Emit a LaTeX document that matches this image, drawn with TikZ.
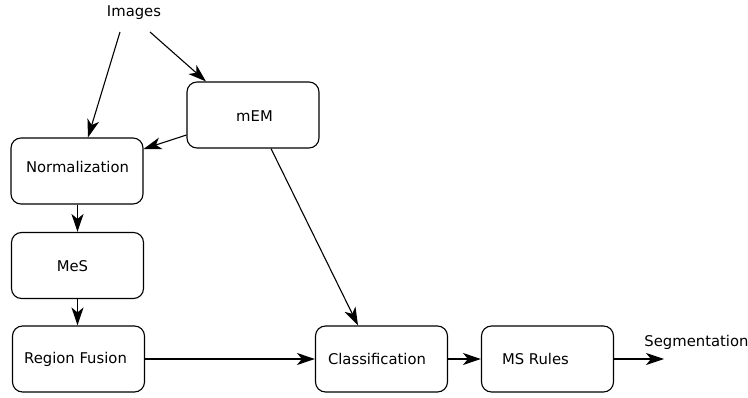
\documentclass[tikz,border=0pt]{standalone}
\usepackage{fontspec}
\setmainfont{DejaVu Sans}
\usetikzlibrary{arrows.meta}
\begin{document}
\begin{tikzpicture}[x=1pt,y=-1pt,
  box/.style={draw,line width=1.1pt,rounded corners=10pt,minimum width=132pt,minimum height=66pt,inner sep=0pt},
  lbl/.style={inner sep=0pt,font=\fontsize{14.8}{17}\selectfont},
  txt/.style n args={3}{label={[lbl,text height=0pt,text depth=0pt,xshift=#1,yshift=#2]center:#3}},
  conn/.style={line width=1.1pt,-{Stealth[length=18pt,width=12pt,inset=5pt]}}]
\useasboundingbox (0,0) rectangle (748,398);
\node[lbl,anchor=base] (img) at (134,17) {Images};
\node[box,txt={1.5pt}{-7pt}{mEM}] (mem) at (253,115) {};
\node[box,txt={0.5pt}{-2pt}{Normalization}] (norm) at (77,171) {};
\node[box,txt={-5pt}{-6.5pt}{MeS}] (mes) at (77.5,265.5) {};
\node[box,txt={-3pt}{-4.5pt}{Region Fusion}] (rf) at (78.5,359) {};
\node[box,txt={-4.5pt}{-6pt}{Classification}] (cls) at (381.5,359) {};
\node[box,txt={-12pt}{-6pt}{MS Rules}] (msr) at (547.5,359) {};
\node[lbl,anchor=base] (seg) at (696.5,347) {Segmentation};
\coordinate (i1) at (120,32);
\coordinate (i2) at (150,32);
\coordinate (segend) at (664,359);
\draw[conn] (i1) -- (norm.north -| 88,0);
\draw[conn] (i2) -- (mem.north -| 206,0);
\draw[conn] (mem.west |- 0,135) -- (norm.east |- 0,149);
\draw[conn] (mem.south -| 271,0) -- (cls.north -| 358,0);
\draw[conn] (norm.south -| 77.5,0) -- (mes.north -| 77.5,0);
\draw[conn] (mes.south -| 77.5,0) -- (rf.north -| 77.5,0);
\draw[conn] (rf.east) -- (cls.west);
\draw[conn] (cls.east) -- (msr.west);
\draw[conn] (msr.east) -- (segend);
\end{tikzpicture}
\end{document}
